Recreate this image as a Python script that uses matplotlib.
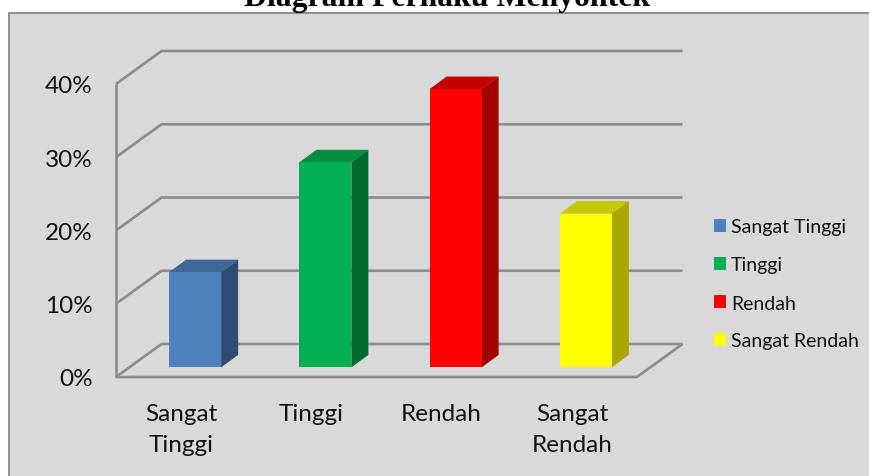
import matplotlib
matplotlib.use("Agg")
from matplotlib import pyplot as plt
from matplotlib.patches import Patch, Polygon, Rectangle
from matplotlib.transforms import ScaledTranslation

categories = ["Sangat Tinggi", "Tinggi", "Rendah", "Sangat Rendah"]
tick_labels = ["Sangat\nTinggi", "Tinggi", "Rendah", "Sangat\nRendah"]
values = [13, 28, 38, 21]
yticks = [0, 10, 20, 30, 40]

front_colors = ["#4F81BD", "#00B050", "#FF0000", "#FFFF00"]
top_colors = ["#3F6797", "#008D40", "#C40000", "#C8C800"]
side_colors = ["#2F4D71", "#006A30", "#A30000", "#A8A800"]

W, H = 869, 477
GRID = "#8C8C8C"
plt.rcParams["font.family"] = ["Lato", "DejaVu Sans"]
plt.rcParams["lines.solid_capstyle"] = "butt"

fig = plt.figure(figsize=(W / 100, H / 100), dpi=100, facecolor="white")

# chart panel, cut off by the right and bottom of the picture
fig.add_artist(Rectangle((9 / W, -0.1), 1, 1.1 - 13.5 / H, transform=fig.transFigure,
                         facecolor="#D9D9D9", edgecolor="#868686", linewidth=1.3, zorder=-1))
fig.text(447 / W, 1 - 6 / H, "Diagram Perilaku Menyontek", family="Liberation Serif",
         weight="bold", fontsize=22.9, ha="center", va="baseline", color="black")

# axes = the front plane of the fake 3D box
ax = fig.add_axes([116 / W, 1 - 378 / H, 521 / W, 293 / H])
ax.patch.set_visible(False)
ax.set_xlim(-0.5, 3.5)
ax.set_ylim(0, 40)
for s in ax.spines.values():
    s.set_visible(False)

xpx = 4 / 521   # data units per pixel
ypx = 40 / 293
depth_x, depth_y = 45.5 * xpx, 33 * ypx
lw = 1.9

for t in yticks:
    ax.plot([-0.5, -0.5 + depth_x, 3.5 + depth_x], [t, t + depth_y, t + depth_y],
            color=GRID, lw=lw, clip_on=False, solid_joinstyle="miter", zorder=1)
ax.plot([-0.5, -0.5], [0, 40], color=GRID, lw=lw, clip_on=False, zorder=1)
ax.plot([-0.5, 3.5, 3.5 + depth_x], [0, 0, depth_y], color=GRID, lw=lw, clip_on=False, zorder=1)

# bars stand a little way back from the front plane
off_x, off_y = 14 * xpx, 9.6 * ypx
side_x, side_y = 17 * xpx, 12.5 * ypx
bar_w = 52 * xpx
xs = [i + off_x for i in range(len(values))]
ax.bar(xs, values, width=bar_w, bottom=off_y, color=front_colors, linewidth=0, zorder=4)
for x, v, tc, sc in zip(xs, values, top_colors, side_colors):
    l, r = x - bar_w / 2, x + bar_w / 2
    top = off_y + v
    ax.add_patch(Polygon([(l, top), (r, top), (r + side_x, top + side_y), (l + side_x, top + side_y)],
                         facecolor=tc, linewidth=0, zorder=3, clip_on=False))
    ax.add_patch(Polygon([(r, off_y), (r, top), (r + side_x, top + side_y), (r + side_x, off_y + side_y)],
                         facecolor=sc, linewidth=0, zorder=3, clip_on=False))

ax.set_yticks(yticks, [f"{t}%" for t in yticks], fontsize=17.5, color="#111111")
ax.set_xticks(range(len(tick_labels)), tick_labels, fontsize=17.5, color="#111111", linespacing=1.6)
ax.tick_params(axis="y", length=0, pad=17)
ax.tick_params(axis="x", length=0, pad=18.5)

handles = [Patch(facecolor=c, linewidth=0) for c in front_colors]
ax.legend(handles, categories, loc="center left", bbox_to_anchor=((714 - 116) / 521, (378 - 285) / 293),
          frameon=False, fontsize=14, handlelength=0.62, handleheight=0.62, handletextpad=0.26,
          labelspacing=1.08, borderpad=0, borderaxespad=0, labelcolor="#111111")

fig.savefig("out.png", dpi=100)
